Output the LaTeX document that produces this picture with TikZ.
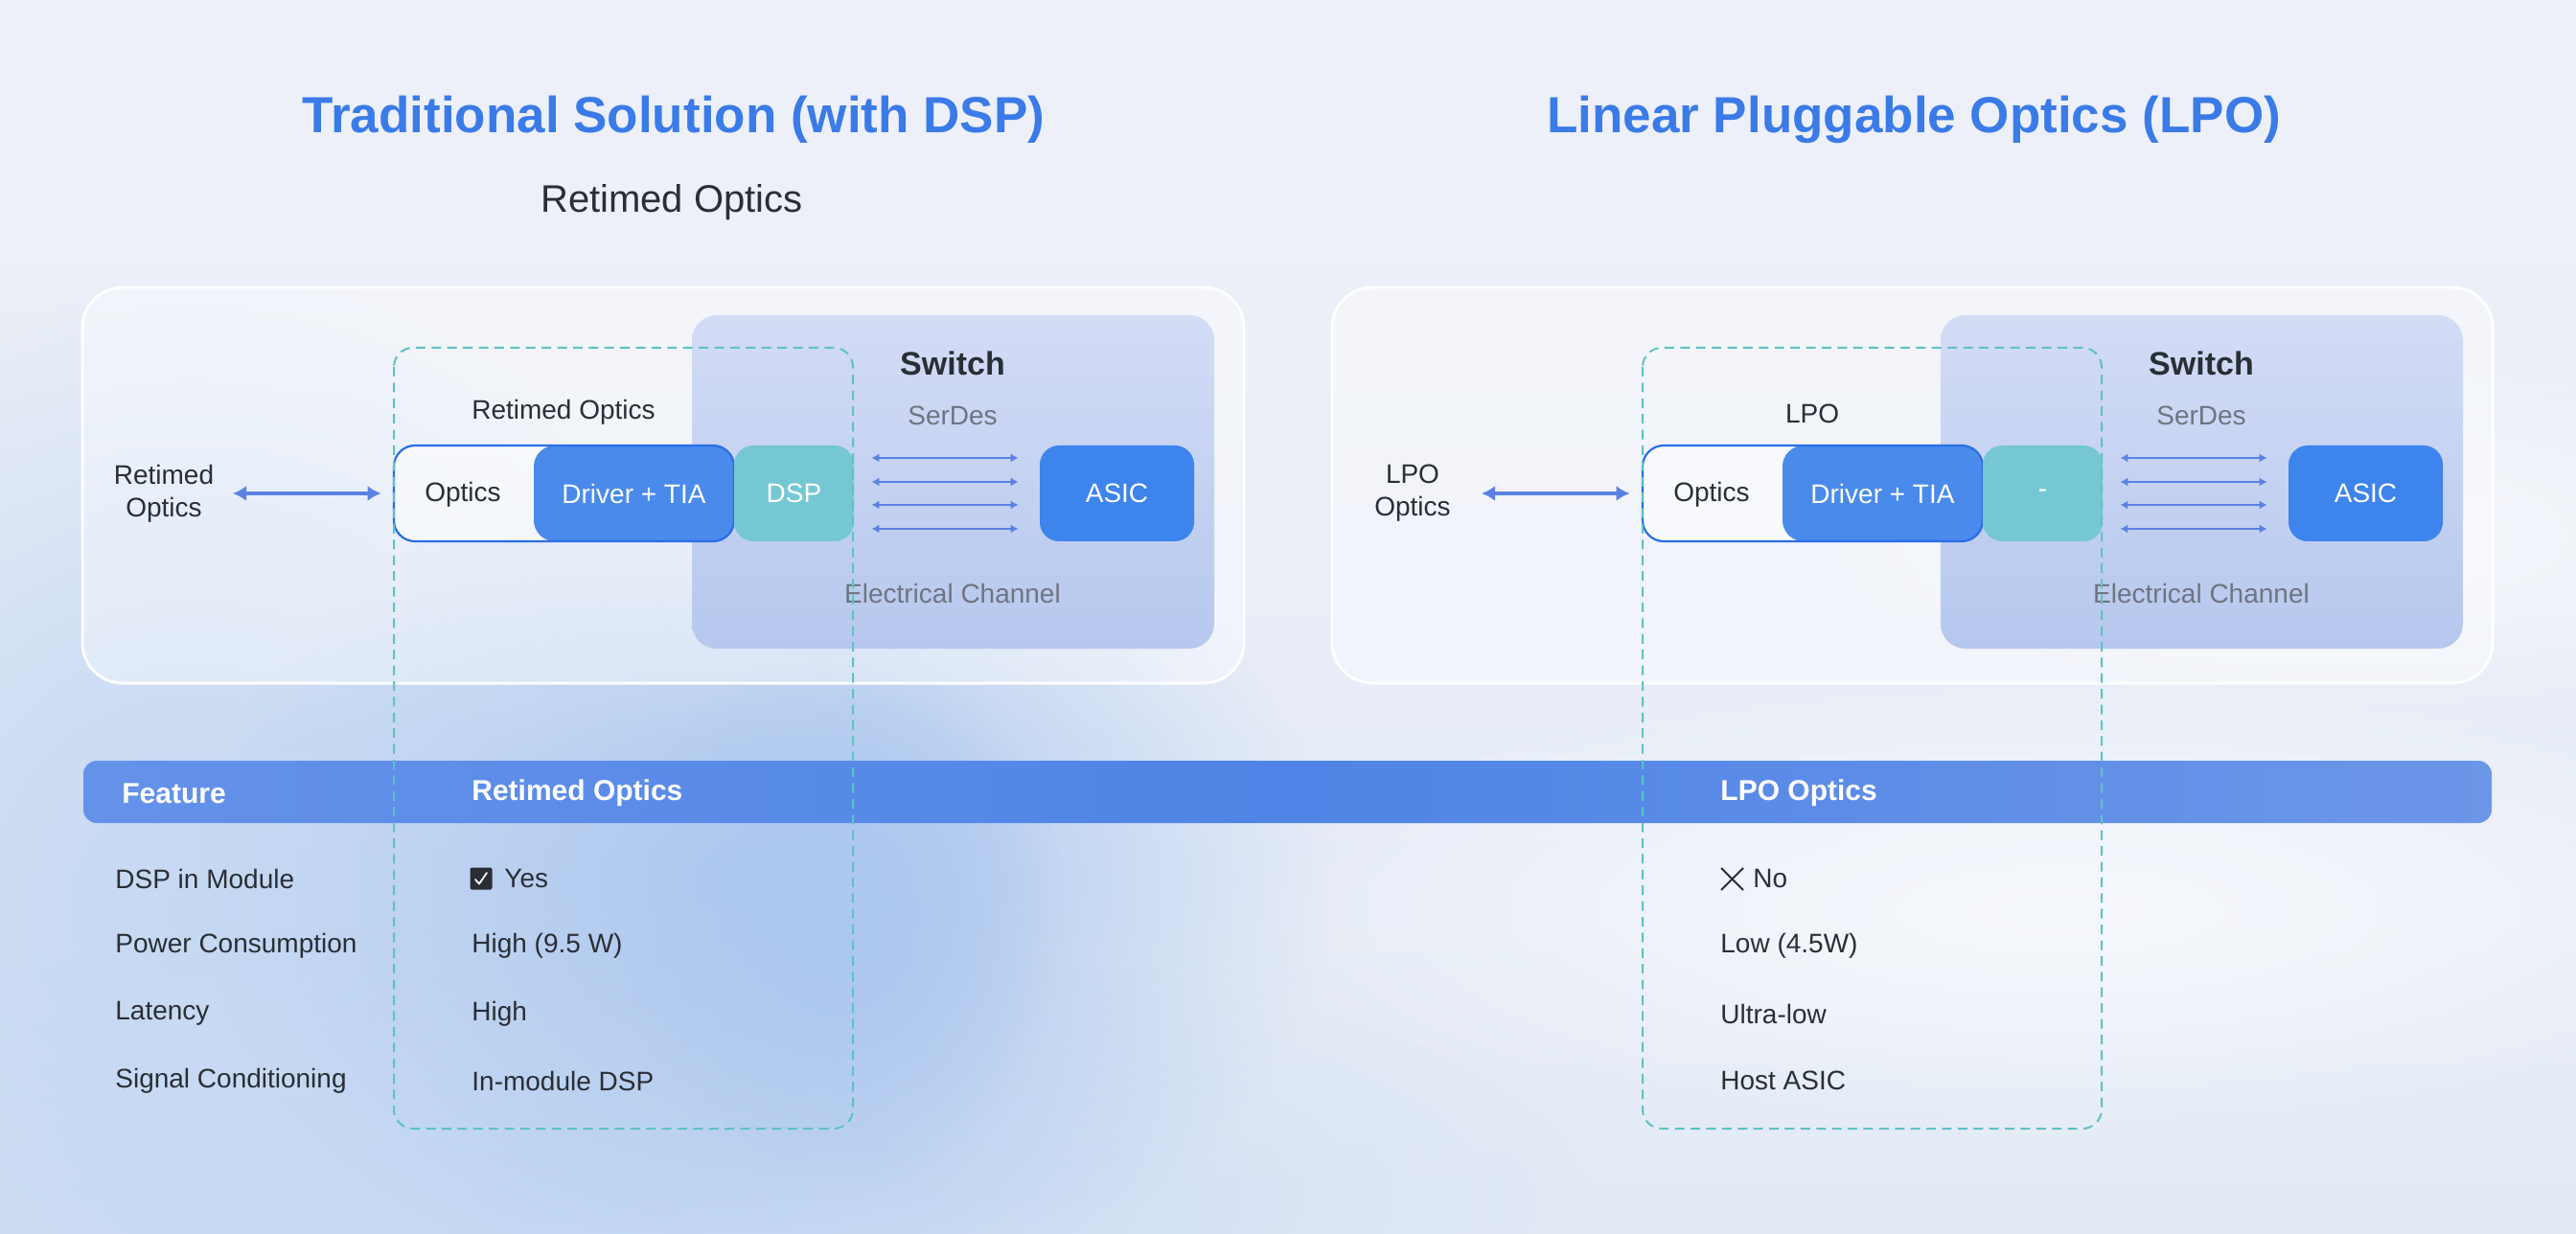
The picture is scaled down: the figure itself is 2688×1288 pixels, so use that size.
\documentclass[tikz,border=0pt]{standalone}
\usepackage{fontspec}
\setmainfont{Liberation Sans}
\usetikzlibrary{arrows.meta,calc,fadings}
\definecolor{bgtop}{HTML}{EEF1F8}
\definecolor{bgbot}{HTML}{E3EAF6}
\definecolor{blobA}{HTML}{ADC8EF}
\definecolor{blobB}{HTML}{C6D9F3}
\definecolor{titleblue}{HTML}{3A7BE8}
\definecolor{dark}{HTML}{2A2E35}
\definecolor{graytxt}{HTML}{6F7580}
\definecolor{tealdash}{HTML}{5EC2C4}
\definecolor{dspfill}{HTML}{76C7D4}
\definecolor{drvfill}{HTML}{4A8AEB}
\definecolor{asicfill}{HTML}{3D84EC}
\definecolor{pillline}{HTML}{2A6EE6}
\definecolor{arrowc}{HTML}{5B82E1}
\definecolor{swtop}{HTML}{D3DCF5}
\definecolor{swbot}{HTML}{B6C8EE}
\definecolor{hdrL}{HTML}{6592E9}
\definecolor{hdrM}{HTML}{4F84E6}
\definecolor{hdrR}{HTML}{6C96E8}
\pgfdeclareradialshading{softfadesh}{\pgfpointorigin}{color(0bp)=(pgftransparent!0); color(8bp)=(pgftransparent!20); color(24bp)=(pgftransparent!100); color(50bp)=(pgftransparent!100)}
\pgfdeclarefading{softblob}{\pgfuseshading{softfadesh}}
\tikzset{
  blob/.style={fill=#1, path fading=softblob, fit fading=true},
  txt/.style={font=\fontsize{14}{17}\selectfont, text=dark, inner sep=0pt},
  graylbl/.style={font=\fontsize{14}{17}\selectfont, text=graytxt, inner sep=0pt},
  switchlbl/.style={font=\bfseries\fontsize{17}{20}\selectfont, text=dark, inner sep=0pt},
  bigtitle/.style={font=\bfseries\fontsize{26.5}{30}\selectfont, text=titleblue, inner sep=0pt},
  subtitle/.style={font=\fontsize{20}{24}\selectfont, text=dark, inner sep=0pt},
  hdrtxt/.style={font=\bfseries\fontsize{15}{18}\selectfont, text=white, inner sep=0pt, anchor=west},
  rowtxt/.style={font=\fontsize{14}{17}\selectfont, text=dark, inner sep=0pt, anchor=west},
  panel/.style={draw=white, line width=1.5pt, fill=white, fill opacity=0.4, draw opacity=0.95, rounded corners=21pt},
  switchbox/.style={top color=swtop, bottom color=swbot, rounded corners=13pt},
  pillbox/.style={minimum width=177.5pt, minimum height=50pt, rounded corners=11pt, inner sep=0pt},
  drvbox/.style={fill=drvfill, minimum width=104.5pt, minimum height=50pt, rounded corners=11pt, inner sep=0pt, text=white, font=\fontsize{14}{17}\selectfont},
  dspbox/.style={fill=dspfill, minimum width=62.5pt, minimum height=50pt, rounded corners=10pt, inner sep=0pt, text=white, font=\fontsize{14}{17}\selectfont},
  asicbox/.style={fill=asicfill, minimum width=80.5pt, minimum height=50pt, rounded corners=10pt, inner sep=0pt, text=white, font=\fontsize{14}{17}\selectfont},
  dashbox/.style={draw=tealdash, line width=1pt, dash pattern=on 5pt off 3.2pt, rounded corners=10pt},
  bigarrow/.style={{Latex[length=7pt,width=8pt]}-{Latex[length=7pt,width=8pt]}, line width=2.4pt, draw=arrowc},
  smallarrow/.style={{Latex[length=4pt,width=4.5pt]}-{Latex[length=4pt,width=4.5pt]}, line width=1.1pt, draw=arrowc},
}
\begin{document}
\begin{tikzpicture}[x=0.5pt,y=-0.5pt]
\useasboundingbox (0,0) rectangle (2688,1288);
% background
\shade[top color=bgtop, bottom color=bgbot] (0,0) rectangle (2688,1288);
\fill[blob=blobB] (200,950) ellipse (650 and 700);
\fill[blob=blobB] (600,1250) ellipse (1100 and 300);
\fill[blob=blobA] (800,920) ellipse (620 and 460);
\fill[blob=blobA] (880,960) ellipse (240 and 300);
\fill[blob=white, fill opacity=0.6] (2150,950) ellipse (900 and 260);
\fill[blob=white, fill opacity=0.5] (2450,560) ellipse (600 and 200);

% titles
\node[bigtitle] (t1) at (703,125) {Traditional Solution (with DSP)};
\node[subtitle] (s1) at (701,211) {Retimed Optics};
\node[bigtitle] (t2) at (1997,125) {Linear Pluggable Optics (LPO)};

% ---------- left panel ----------
\path[panel] (86,300) rectangle (1298,713);
\path[switchbox] (722,329) rectangle (1267,677);
\node[switchlbl] (sw1) at (994,379) {Switch};
\node[graylbl] (sd1) at (994,434) {SerDes};
\node[graylbl] (ec1) at (994,619) {Electrical Channel};
\node[txt] (rol) at (588,430) {Retimed Optics};
\node[pillbox, fill=white, fill opacity=0.5] (mod1) at (588.5,515) {};
\node[drvbox] (drv1) at (661.5,515) {Driver + TIA};
\node[pillbox, draw=pillline, line width=1.1pt] at (588.5,515) {};
\node[txt] (opt1) at (483,516) {Optics};
\node[dspbox] (dsp1) at (828.5,515) {DSP};
\node[asicbox] (asic1) at (1165.5,515) {ASIC};
\node[txt, align=center] (lbl1) at (171,515) {Retimed\\Optics};
\coordinate (la1) at (243,515);
\draw[bigarrow] (la1) -- ($(mod1.west)+(-13,0)$);
\foreach \dy in {-37,-12,12,37}{
  \draw[smallarrow] ($(dsp1.east)+(18,\dy)$) -- ($(asic1.west)+(-22,\dy)$);
}

% ---------- right panel ----------
\path[panel] (1390,300) rectangle (2601,713);
\path[switchbox] (2025,329) rectangle (2570,677);
\node[switchlbl] (sw2) at (2297,379) {Switch};
\node[graylbl] (sd2) at (2297,434) {SerDes};
\node[graylbl] (ec2) at (2297,619) {Electrical Channel};
\node[txt] (lpol) at (1891,432) {LPO};
\node[pillbox, fill=white, fill opacity=0.5] (mod2) at (1891.5,515) {};
\node[drvbox] (drv2) at (1964.5,515) {Driver + TIA};
\node[pillbox, draw=pillline, line width=1.1pt] at (1891.5,515) {};
\node[txt] (opt2) at (1786,516) {Optics};
\node[dspbox] (dsp2) at (2131.5,515) {-};
\node[asicbox] (asic2) at (2468.5,515) {ASIC};
\node[txt, align=center] (lbl2) at (1474,515) {LPO\\Optics};
\coordinate (la2) at (1546,515);
\draw[bigarrow] (la2) -- ($(mod2.west)+(-13,0)$);
\foreach \dy in {-37,-12,12,37}{
  \draw[smallarrow] ($(dsp2.east)+(18,\dy)$) -- ($(asic2.west)+(-22,\dy)$);
}

% ---------- table ----------
\shade[left color=hdrL, right color=hdrR, middle color=hdrM, rounded corners=7pt] (87,794) rectangle (2600,859);
\node[hdrtxt] (h1) at (127,828) {Feature};
\node[hdrtxt] (h2) at (492,828) {Retimed Optics};
\node[hdrtxt] (h3) at (1795,828) {LPO Optics};

\node[rowtxt] (r1a) at (120,917) {DSP in Module};
\node[rowtxt] (r2a) at (120,987) {Power Consumption};
\node[rowtxt] (r3a) at (120,1058) {Latency};
\node[rowtxt] (r4a) at (120,1128) {Signal Conditioning};

\node[fill=dark, rounded corners=1pt, minimum size=11.5pt, inner sep=0pt] (chk) at (502,917) {};
\draw[white, line width=0.9pt, line cap=round, line join=round] (496,918) -- (500,922.5) -- (508,911);
\node[rowtxt] (r1b) at (526,917) {Yes};
\node[rowtxt] (r2b) at (492,987) {High (9.5 W)};
\node[rowtxt] (r3b) at (492,1058) {High};
\node[rowtxt] (r4b) at (492,1128) {In-module DSP};

\draw[dark, line width=1pt] (1796,906) -- (1819,929) (1796,929) -- (1819,906);
\node[rowtxt] (r1c) at (1829,917) {No};
\node[rowtxt] (r2c) at (1795,987) {Low (4.5W)};
\node[rowtxt] (r3c) at (1795,1058) {Ultra-low};
\node[rowtxt] (r4c) at (1795,1128) {Host ASIC};

% dashed module outlines on top
\path[dashbox] (411,363) rectangle (890,1178);
\path[dashbox] (1714,363) rectangle (2193,1178);
\end{tikzpicture}
\end{document}
